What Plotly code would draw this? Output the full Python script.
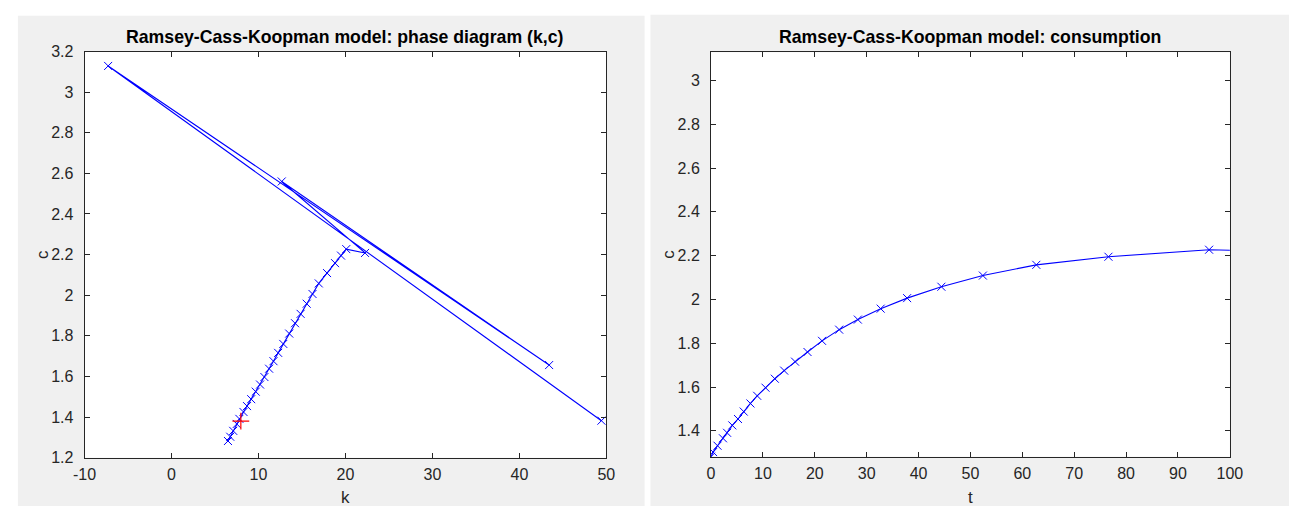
import plotly.graph_objects as go

# ---- data ----
t_vals = [0, 0.4, 1.25, 2.3, 3.1, 4.1, 5.2, 6.3, 7.6, 8.9, 10.5, 12.3, 14.1, 16.2,
          18.6, 21.4, 24.7, 28.3, 32.7, 37.8, 44.4, 52.4, 62.7, 76.6, 96.0,
          130, 165, 200, 240, 280]
c_vals = [1.282, 1.303, 1.332, 1.366, 1.391, 1.425, 1.454, 1.488, 1.525, 1.560,
          1.597, 1.638, 1.675, 1.716, 1.760, 1.811, 1.862, 1.908, 1.958, 2.006,
          2.058, 2.109, 2.158, 2.195, 2.227, 2.208, 2.560, 1.656, 3.129, 1.382]
k_vals = [6.49, 6.75, 7.09, 7.50, 7.80, 8.27, 8.68, 9.16, 9.68, 10.18, 10.68,
          11.22, 11.72, 12.26, 12.85, 13.53, 14.20, 14.84, 15.54, 16.21, 16.93,
          17.88, 18.80, 19.49, 20.09, 22.25, 12.67, 43.42, -7.29, 49.43]
k_start = [7.97]
c_start = [1.380]

left_title = "Ramsey-Cass-Koopman model: phase diagram (k,c)"
right_title = "Ramsey-Cass-Koopman model: consumption"
x_ticks_left = [-10, 0, 10, 20, 30, 40, 50]
y_ticks_left = [1.2, 1.4, 1.6, 1.8, 2.0, 2.2, 2.4, 2.6, 2.8, 3.0, 3.2]
x_ticks_right = [0, 10, 20, 30, 40, 50, 60, 70, 80, 90, 100]
y_ticks_right = [1.4, 1.6, 1.8, 2.0, 2.2, 2.4, 2.6, 2.8, 3.0]

W, H = 1302, 515
BLUE = "#0000ff"
FONT = "Liberation Sans, Arial, Helvetica, sans-serif"
AX = "#262626"


def px(x):
    return x / W


def py(y):
    return 1 - y / H


def fmt(v):
    s = f"{v:.1f}"
    return s[:-2] if s.endswith(".0") else s


fig = go.Figure()
fig.add_trace(go.Scatter(
    x=k_vals, y=c_vals, mode="lines+markers", xaxis="x", yaxis="y",
    line=dict(color=BLUE, width=1.1),
    marker=dict(symbol="x-thin-open", size=8, line=dict(color=BLUE, width=1), color=BLUE),
    showlegend=False))
fig.add_trace(go.Scatter(
    x=k_start, y=c_start, mode="markers", xaxis="x", yaxis="y",
    marker=dict(symbol="cross-thin-open", size=12, line=dict(color="#ff0000", width=1.2), color="#ff0000"),
    showlegend=False))
fig.add_trace(go.Scatter(
    x=t_vals, y=c_vals, mode="lines+markers", xaxis="x2", yaxis="y2",
    line=dict(color=BLUE, width=1.1),
    marker=dict(symbol="x-thin-open", size=8, line=dict(color=BLUE, width=1), color=BLUE),
    showlegend=False))

common = dict(showline=True, linecolor=AX, linewidth=1, mirror="ticks",
              ticks="inside", ticklen=5, tickcolor=AX, tickwidth=1,
              showgrid=False, zeroline=False,
              tickfont=dict(family=FONT, size=16, color=AX))
xcommon = dict(common, ticklabelstandoff=2)
ycommon = dict(common, ticklabelstandoff=7)

fig.update_layout(
    width=W, height=H, autosize=False, margin=dict(l=0, r=0, t=0, b=0),
    paper_bgcolor="white", plot_bgcolor="white",
    xaxis=dict(domain=[px(74), px(606)], range=[-10, 50], anchor="y",
               tickvals=x_ticks_left, ticktext=[fmt(v) for v in x_ticks_left], **xcommon),
    yaxis=dict(domain=[py(465), py(45)], range=[1.2, 3.2], anchor="x",
               tickvals=y_ticks_left, ticktext=[fmt(v) for v in y_ticks_left], **ycommon),
    xaxis2=dict(domain=[px(712.7), px(1241.7)], range=[0, 100], anchor="y2",
                tickvals=x_ticks_right, ticktext=[fmt(v) for v in x_ticks_right], **xcommon),
    yaxis2=dict(domain=[py(464), py(45.7)], range=[1.282, 3.129], anchor="x2",
                tickvals=y_ticks_right, ticktext=[fmt(v) for v in y_ticks_right], **ycommon),
    shapes=[
        dict(type="rect", xref="paper", yref="paper", x0=px(6), x1=px(645), y0=0, y1=py(8),
             fillcolor="#f0f0f0", line=dict(width=0), layer="below"),
        dict(type="rect", xref="paper", yref="paper", x0=px(651), x1=1, y0=0, y1=py(7),
             fillcolor="#f0f0f0", line=dict(width=0), layer="below"),
        dict(type="rect", xref="paper", yref="paper", x0=px(74), x1=px(606), y0=py(465), y1=py(45),
             fillcolor="white", line=dict(width=0), layer="below"),
        dict(type="rect", xref="paper", yref="paper", x0=px(712.7), x1=px(1241.7), y0=py(464), y1=py(45.7),
             fillcolor="white", line=dict(width=0), layer="below"),
    ],
)


def ann(text, x, y, size=16, bold=False, angle=0, color=AX):
    fig.add_annotation(text=f"<b>{text}</b>" if bold else text, xref="paper", yref="paper",
                       x=px(x), y=py(y), xanchor="center", yanchor="middle",
                       showarrow=False, textangle=angle,
                       font=dict(family=FONT, size=size, color=color))


ann(left_title, 340, 30, size=17.7, bold=True, color="#000000")
ann(right_title, 977, 30, size=17.7, bold=True, color="#000000")
ann("k", 340, 506, size=17)
ann("t", 977, 506, size=17)
ann("c", 31, 255, size=17, angle=-90)
ann("c", 669, 255, size=17, angle=-90)

fig.write_html("out.html", config={"displayModeBar": False},
               post_script="document.body.style.margin='0';document.body.style.overflow='hidden';")
